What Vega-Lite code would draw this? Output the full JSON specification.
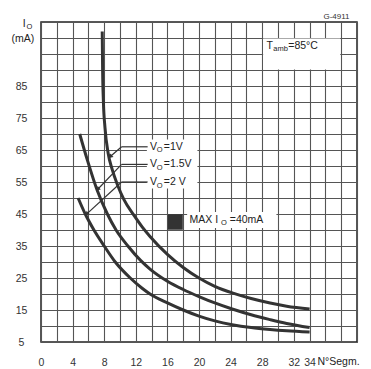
{
  "$schema": "https://vega.github.io/schema/vega-lite/v6.json",
  "width": 316,
  "height": 320,
  "autosize": {"type": "none"},
  "padding": {"left": 41, "top": 22, "right": 14, "bottom": 27},
  "background": "white",
  "config": {
    "view": {"stroke": "#222", "strokeWidth": 1.5},
    "font": "Liberation Sans",
    "axis": {
      "grid": true, "gridColor": "#555", "gridWidth": 1.1, "gridOpacity": 1,
      "domain": false, "ticks": false, "tickSize": 0, "title": null,
      "labelFontSize": 10.5, "labelColor": "#333", "labelFont": "Liberation Sans",
      "labelFlush": false, "labelOverlap": false
    }
  },
  "datasets": {
    "curves": [
      {"s": "1V", "x": 7.75, "y": 102}, {"s": "1V", "x": 7.8, "y": 90}, {"s": "1V", "x": 7.9, "y": 80},
      {"s": "1V", "x": 8.1, "y": 72}, {"s": "1V", "x": 8.5, "y": 64}, {"s": "1V", "x": 9.0, "y": 59},
      {"s": "1V", "x": 9.7, "y": 54}, {"s": "1V", "x": 10.5, "y": 49.5}, {"s": "1V", "x": 11.8, "y": 44.5},
      {"s": "1V", "x": 12.8, "y": 41}, {"s": "1V", "x": 13.8, "y": 38}, {"s": "1V", "x": 16, "y": 32.4},
      {"s": "1V", "x": 18, "y": 28.3}, {"s": "1V", "x": 20, "y": 25}, {"s": "1V", "x": 22, "y": 22.4},
      {"s": "1V", "x": 24.4, "y": 20.2}, {"s": "1V", "x": 26.6, "y": 18.6}, {"s": "1V", "x": 29, "y": 17.2},
      {"s": "1V", "x": 31.1, "y": 16.2}, {"s": "1V", "x": 34, "y": 15.3},
      {"s": "1.5V", "x": 4.9, "y": 70}, {"s": "1.5V", "x": 5.9, "y": 61.6}, {"s": "1.5V", "x": 7.1, "y": 52.5},
      {"s": "1.5V", "x": 8.4, "y": 45}, {"s": "1.5V", "x": 9.5, "y": 40}, {"s": "1.5V", "x": 11, "y": 35},
      {"s": "1.5V", "x": 12.6, "y": 30.5}, {"s": "1.5V", "x": 13.8, "y": 27.8}, {"s": "1.5V", "x": 16, "y": 24},
      {"s": "1.5V", "x": 18, "y": 21.4}, {"s": "1.5V", "x": 20, "y": 19.2}, {"s": "1.5V", "x": 22, "y": 17.2},
      {"s": "1.5V", "x": 24.2, "y": 15.3}, {"s": "1.5V", "x": 26.6, "y": 13.5}, {"s": "1.5V", "x": 29, "y": 12},
      {"s": "1.5V", "x": 31.1, "y": 10.8}, {"s": "1.5V", "x": 34, "y": 9.5},
      {"s": "2V", "x": 4.7, "y": 50}, {"s": "2V", "x": 5.6, "y": 45}, {"s": "2V", "x": 6.7, "y": 40},
      {"s": "2V", "x": 8, "y": 35}, {"s": "2V", "x": 9.4, "y": 30}, {"s": "2V", "x": 11.3, "y": 25},
      {"s": "2V", "x": 12.8, "y": 21.8}, {"s": "2V", "x": 13.8, "y": 20}, {"s": "2V", "x": 16, "y": 17.2},
      {"s": "2V", "x": 18, "y": 15}, {"s": "2V", "x": 20, "y": 13.1}, {"s": "2V", "x": 22, "y": 11.6},
      {"s": "2V", "x": 24.2, "y": 10.4}, {"s": "2V", "x": 26.6, "y": 9.5}, {"s": "2V", "x": 29, "y": 8.9},
      {"s": "2V", "x": 31.1, "y": 8.5}, {"s": "2V", "x": 34, "y": 8.1}
    ],
    "boxes": [
      {"x": 13.4, "x2": 19.8, "y": 53, "y2": 68.3},
      {"x": 18.5, "x2": 29.8, "y": 40.6, "y2": 45.6},
      {"x": 28.12, "x2": 37.88, "y": 90.15, "y2": 99.85}
    ],
    "leaders": [
      {"x": 13.5, "y": 66, "x2": 10.2, "y2": 66}, {"x": 10.2, "y": 66, "x2": 8.7, "y2": 62.8},
      {"x": 13.5, "y": 60.5, "x2": 10.2, "y2": 60.5}, {"x": 10.2, "y": 60.5, "x2": 7.1, "y2": 52.5},
      {"x": 13.5, "y": 55, "x2": 10.2, "y2": 55}, {"x": 10.2, "y": 55, "x2": 5.7, "y2": 44.8}
    ],
    "tips": [
      {"x": 8.85, "y": 63.1}, {"x": 7.25, "y": 52.9}, {"x": 5.85, "y": 45.2}
    ],
    "square": [{"x": 16.05, "x2": 17.95, "y": 40.1, "y2": 44.9}],
    "mainText": [
      {"x": 13.8, "y": 66, "t": "V"}, {"x": 15.55, "y": 66, "t": "=1V"},
      {"x": 13.8, "y": 60.5, "t": "V"}, {"x": 15.55, "y": 60.5, "t": "=1.5V"},
      {"x": 13.8, "y": 55, "t": "V"}, {"x": 15.55, "y": 55, "t": "=2 V"},
      {"x": 18.8, "y": 43.2, "t": "MAX I"}, {"x": 23.9, "y": 43.2, "t": "=40mA"},
      {"x": 28.55, "y": 97.6, "t": "T"}, {"x": 31.3, "y": 97.6, "t": "=85°C"},
      {"x": -2.3, "y": 104.5, "t": "I"},
      {"x": 35, "y": -1.3, "t": "N°Segm."}
    ],
    "subText": [
      {"x": 14.65, "y": 66, "t": "O"}, {"x": 14.65, "y": 60.5, "t": "O"}, {"x": 14.65, "y": 55, "t": "O"},
      {"x": 22.8, "y": 43.2, "t": "O"}, {"x": 29.4, "y": 97.6, "t": "amb"}, {"x": -1.85, "y": 104.5, "t": "O"}
    ],
    "centerText": [
      {"x": -2.3, "y": 99.8, "t": "(mA)"}
    ],
    "smallText": [
      {"x": 37.4, "y": 106.7, "t": "G-4911"}
    ]
  },
  "encoding": {
    "x": {"field": "x", "type": "quantitative",
      "scale": {"domain": [0, 40], "nice": false, "zero": false},
      "axis": {
        "values": [0, 2, 4, 6, 8, 10, 12, 14, 16, 18, 20, 22, 24, 26, 28, 30, 32, 34, 36, 38, 40],
        "labelExpr": "indexof([0,4,8,12,16,20,24,28,32,34], datum.value) >= 0 ? datum.label : ''",
        "labelPadding": 15, "labelOverlap": false, "grid": true
      }},
    "y": {"field": "y", "type": "quantitative",
      "scale": {"domain": [5, 105], "nice": false, "zero": false},
      "axis": {
        "values": [5, 10, 15, 20, 25, 30, 35, 40, 45, 50, 55, 60, 65, 70, 75, 80, 85, 90, 95, 100, 105],
        "labelExpr": "(datum.value % 10 == 5 && datum.value <= 85) ? datum.label : ''",
        "labelAlign": "center", "labelBaseline": "middle", "labelPadding": 20,
        "labelOverlap": false, "grid": true
      }}
  },
  "layer": [
    {
      "data": {"name": "boxes"},
      "mark": {"type": "rect", "color": "white"},
      "encoding": {
        "x2": {"field": "x2"},
        "y2": {"field": "y2"}
      }
    },
    {
      "data": {"name": "curves"},
      "mark": {"type": "line", "color": "#333", "strokeWidth": 3, "interpolate": "monotone"},
      "encoding": {
        "detail": {"field": "s"}
      }
    },
    {
      "data": {"name": "leaders"},
      "mark": {"type": "rule", "color": "#333", "strokeWidth": 1.2},
      "encoding": {
        "x2": {"field": "x2"},
        "y2": {"field": "y2"}
      }
    },
    {
      "data": {"name": "tips"},
      "mark": {"type": "point", "shape": "triangle", "filled": true, "color": "#333", "size": 22, "angle": 228, "opacity": 1},
      "encoding": {}
    },
    {
      "data": {"name": "square"},
      "mark": {"type": "rect", "color": "#333"},
      "encoding": {
        "x2": {"field": "x2"},
        "y2": {"field": "y2"}
      }
    },
    {
      "data": {"name": "mainText"},
      "mark": {"type": "text", "align": "left", "baseline": "middle", "fontSize": 10.5, "color": "#222", "font": "Liberation Sans"},
      "encoding": {
        "text": {"field": "t"}
      }
    },
    {
      "data": {"name": "subText"},
      "mark": {"type": "text", "align": "left", "baseline": "middle", "fontSize": 7.5, "dy": 3.5, "color": "#222", "font": "Liberation Sans"},
      "encoding": {
        "text": {"field": "t"}
      }
    },
    {
      "data": {"name": "centerText"},
      "mark": {"type": "text", "align": "center", "baseline": "middle", "fontSize": 10.5, "color": "#222", "font": "Liberation Sans"},
      "encoding": {
        "text": {"field": "t"}
      }
    },
    {
      "data": {"name": "smallText"},
      "mark": {"type": "text", "align": "center", "baseline": "middle", "fontSize": 8, "color": "#333", "font": "Liberation Sans"},
      "encoding": {
        "text": {"field": "t"}
      }
    }
  ]
}
